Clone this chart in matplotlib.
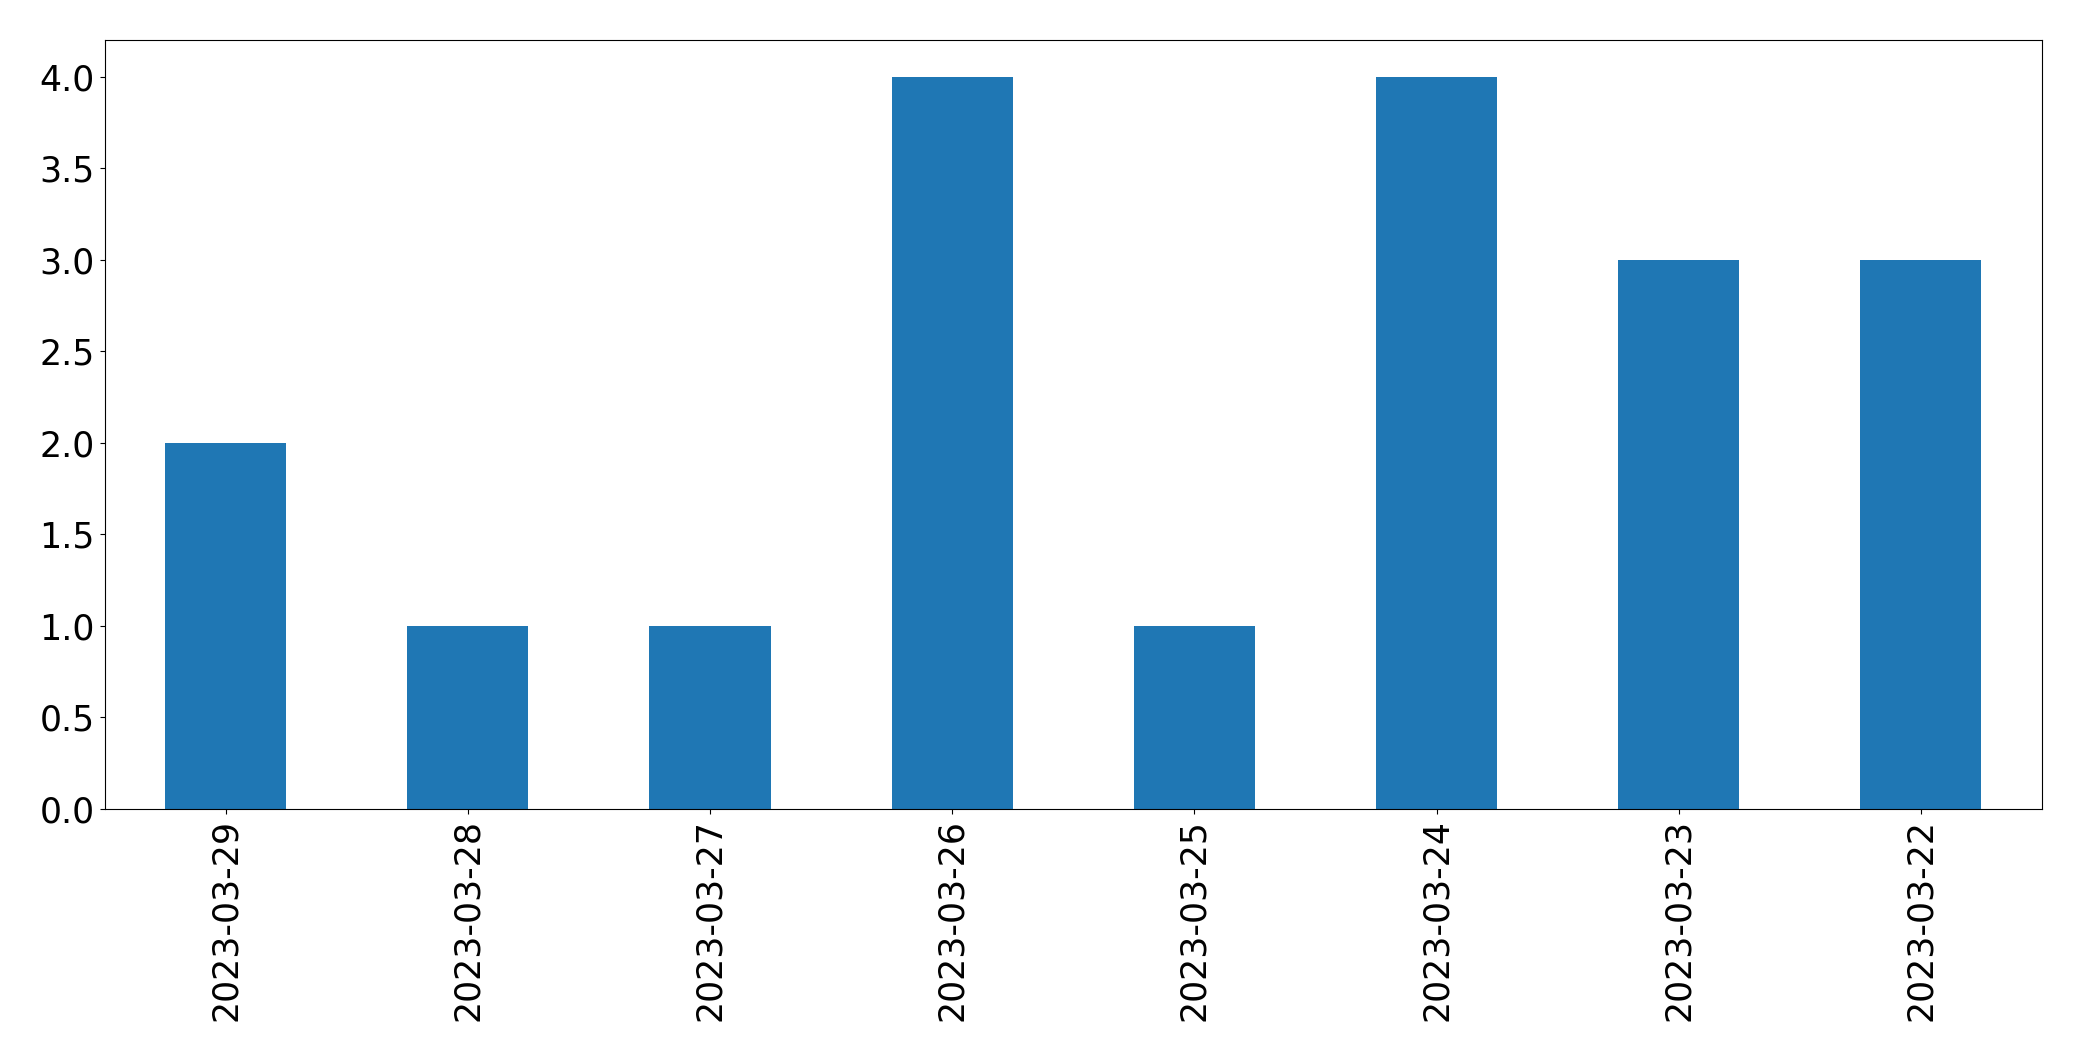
import matplotlib
matplotlib.use("Agg")
import matplotlib.pyplot as plt

dates = ["2023-03-29", "2023-03-28", "2023-03-27", "2023-03-26",
         "2023-03-25", "2023-03-24", "2023-03-23", "2023-03-22"]
counts = [2, 1, 1, 4, 1, 4, 3, 3]

fig = plt.figure(figsize=(20.82, 10.61), dpi=100)
ax = fig.add_axes([104.5 / 2082, 1 - 809 / 1061, (2042 - 104.5) / 2082, (809 - 40) / 1061])
x = range(len(dates))
ax.bar(x, counts, width=0.5, color="#1f77b4")
ax.set_xlim(-0.5, len(dates) - 0.5)
ax.set_xticks(list(x))
ax.set_xticklabels(dates, rotation=90)
ax.tick_params(labelsize=25)
fig.savefig("out.png", dpi=100)
